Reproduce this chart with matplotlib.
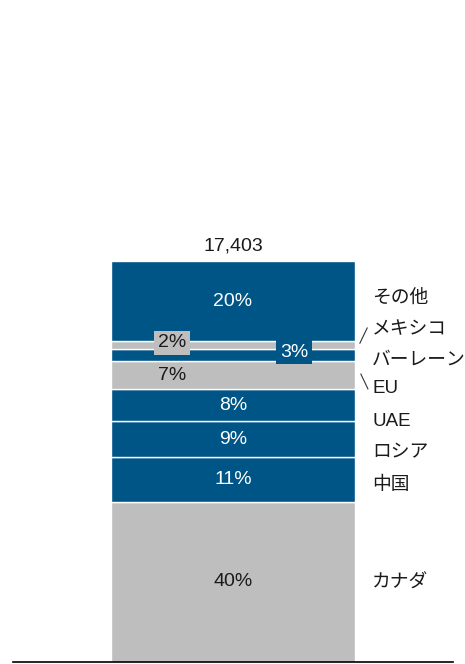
import matplotlib.pyplot as plt
from matplotlib.lines import Line2D
from matplotlib.path import Path

plt.rcParams['font.family'] = ['Liberation Sans', 'Noto Sans CJK JP']

# =============================================================================
#                                   Data
# =============================================================================

countries = ['カナダ', '中国', 'ロシア', 'UAE', 'EU', 'バーレーン', 'メキシコ', 'その他']
shares = [40, 11, 9, 8, 7, 3, 2, 20]
total_label = '17,403'

BLUE = '#005587'
GRAY = '#bdbebd'
colors = [GRAY, BLUE, BLUE, BLUE, GRAY, BLUE, GRAY, BLUE]


def wide_box(x0, y0, width, height, mutation_size):
    """ rectangle with more padding left/right than top/bottom """
    px = 0.2 * mutation_size
    py = 0.18 * mutation_size
    x0, y0 = x0 - px, y0 - py
    x1, y1 = x0 + width + 2 * px, y0 + height + 2 * py
    return Path([(x0, y0), (x1, y0), (x1, y1), (x0, y1), (x0, y0)], closed=True)


# =============================================================================
#                                   Chart
# =============================================================================

fig = plt.figure(figsize=(4.65, 6.64), dpi=100)
ax = fig.add_axes([111 / 465, 2 / 664, 244 / 465, 401 / 664])

bottom = 0
mids = []
for val, col in zip(shares, colors):
    ax.bar(0, val, bottom=bottom, width=1, color=col, edgecolor='white', linewidth=1)
    mids.append(bottom + val / 2)
    bottom += val

ax.set_xlim(-0.5, 0.5)
ax.set_ylim(0, 100)
ax.axis('off')

# percent labels inside the bar
for i, (val, mid, col) in enumerate(zip(shares, mids, colors)):
    txt_col = 'white' if col == BLUE else '#1a1a1a'
    x = 0
    box = None
    if countries[i] == 'EU':
        x = -0.25
    if countries[i] == 'メキシコ':
        x = -0.25
        mid = mid + 0.6
        box = dict(boxstyle=wide_box, fc=GRAY, ec='none')
    if countries[i] == 'バーレーン':
        x = 0.25
        mid = mid + 0.8
        box = dict(boxstyle=wide_box, fc=BLUE, ec='none')
    ax.text(x, mid, f'{val}%', ha='center', va='center', fontsize=14,
            color=txt_col, bbox=box, clip_on=False)

# total on top
ax.text(0, 103.8, total_label, ha='center', va='center', fontsize=14, color='#1a1a1a')

# country names on the right, spaced to avoid overlap
label_y = {'カナダ': 19.7, '中国': 44.1, 'ロシア': 52.1, 'UAE': 59.9,
           'EU': 68.1, 'バーレーン': 75.3, 'メキシコ': 83.0, 'その他': 90.8}
for name in countries:
    ax.text(0.57, label_y[name], name, ha='left', va='center', fontsize=13.5,
            color='#1a1a1a', clip_on=False)

# small leader ticks
ax.plot([0.52, 0.55], [79.5, 83.3], color='#333333', lw=0.8, clip_on=False)
ax.plot([0.524, 0.553], [71.8, 68.1], color='#333333', lw=0.8, clip_on=False)

# baseline
fig.add_artist(Line2D([13 / 465, 453 / 465], [2 / 664, 2 / 664],
                      color='black', lw=1.2, transform=fig.transFigure))

fig.savefig('out.png', dpi=100)
